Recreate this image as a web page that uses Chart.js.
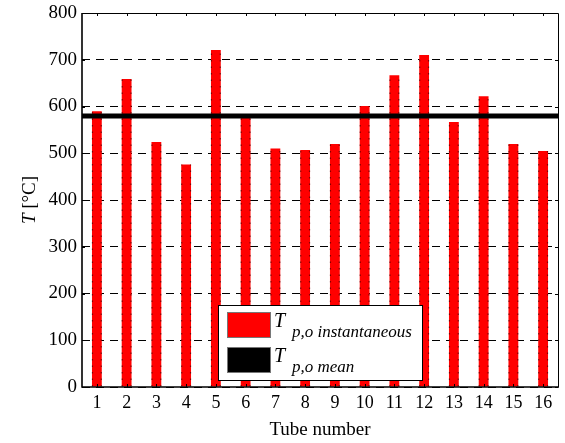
<!DOCTYPE html>
<html>
<head>
<meta charset="utf-8">
<script src="https://cdn.jsdelivr.net/npm/chart.js@4/dist/chart.umd.min.js"></script>
<style>
    html, body { margin: 0; padding: 0; background: #fff; }
    #wrap { width: 565px; height: 443px; position: relative; }
</style>
</head>
<body>
<div id="wrap"><canvas id="chart" width="565" height="443"></canvas></div>
<script>
const tubes = ["1", "2", "3", "4", "5", "6", "7", "8", "9", "10", "11", "12", "13", "14", "15", "16"];
const tempInstant = [590, 659, 524, 476, 721, 578, 510, 507, 520, 601, 667, 710, 567, 622, 520, 505];
const tempMean = tempInstant.reduce((a, b) => a + b, 0) / tempInstant.length;
const yMin = 0;
const yMax = 800;
const yStep = 100;

const serif = "'Liberation Serif', 'Times New Roman', serif";

// frame round the plot area with short inward ticks
const framePlugin = {
    id: "frame",
    afterDatasetsDraw(chart) {
        const { ctx, chartArea: a, scales } = chart;
        ctx.save();
        ctx.strokeStyle = "#000";
        ctx.lineWidth = 1;
        ctx.setLineDash([]);
        const tl = 3;
        ctx.beginPath();
        scales.x.ticks.forEach((t, i) => {
            const px = Math.round(scales.x.getPixelForTick(i)) + 0.5;
            ctx.moveTo(px, a.top); ctx.lineTo(px, a.top + tl);
            ctx.moveTo(px, a.bottom); ctx.lineTo(px, a.bottom - tl);
        });
        scales.y.ticks.forEach((t) => {
            const py = Math.round(scales.y.getPixelForValue(t.value)) + 0.5;
            ctx.moveTo(a.left, py); ctx.lineTo(a.left + tl, py);
            ctx.moveTo(a.right, py); ctx.lineTo(a.right - tl, py);
        });
        ctx.stroke();
        ctx.restore();
    },
    afterDraw(chart) {
        const { ctx, chartArea: a } = chart;
        ctx.save();
        ctx.strokeStyle = "#000";
        ctx.lineWidth = 1;
        ctx.beginPath();
        ctx.moveTo(a.left, Math.round(a.top) + 0.5);
        ctx.lineTo(a.right + 0.5, Math.round(a.top) + 0.5);
        ctx.lineTo(a.right + 0.5, a.bottom);
        ctx.stroke();
        ctx.lineWidth = 1.6;
        ctx.beginPath();
        ctx.moveTo(a.left, a.top);
        ctx.lineTo(a.left, a.bottom);
        ctx.lineTo(a.right + 1, a.bottom);
        ctx.stroke();
        ctx.restore();
    },
};

// dotted edges on the bars, then the mean line across the whole plot
const meanPlugin = {
    id: "meanLine",
    afterDatasetsDraw(chart) {
        const { ctx, chartArea: a } = chart;
        const meta = chart.getDatasetMeta(0);
        ctx.save();
        ctx.strokeStyle = "rgba(70,0,0,0.65)";
        ctx.lineWidth = 1.2;
        ctx.setLineDash([1.5, 5]);
        meta.data.forEach((bar) => {
            const { x, y, base, width } = bar.getProps(["x", "y", "base", "width"], true);
            ctx.beginPath();
            ctx.moveTo(x - width / 2 + 0.5, base);
            ctx.lineTo(x - width / 2 + 0.5, y);
            ctx.moveTo(x + width / 2 - 0.5, base);
            ctx.lineTo(x + width / 2 - 0.5, y);
            ctx.stroke();
        });
        ctx.setLineDash([]);

        const py = chart.scales.y.getPixelForValue(tempMean);
        ctx.strokeStyle = "#000";
        ctx.lineWidth = 5;
        ctx.beginPath();
        ctx.moveTo(a.left, py);
        ctx.lineTo(a.right, py);
        ctx.stroke();
        ctx.restore();
    },
};

// y title with italic T, and the boxed legend with subscripted labels
const textPlugin = {
    id: "texts",
    afterDraw(chart) {
        const { ctx, chartArea: a } = chart;
        ctx.save();

        ctx.translate(30, (a.top + a.bottom) / 2);
        ctx.rotate(-Math.PI / 2);
        ctx.fillStyle = "#000";
        ctx.textBaseline = "middle";
        ctx.font = "italic 19px " + serif;
        const t1 = "T";
        const t2 = " [°C]";
        const w1 = ctx.measureText(t1).width;
        ctx.font = "19px " + serif;
        const w2 = ctx.measureText(t2).width;
        const sx = -(w1 + w2) / 2;
        ctx.font = "italic 19px " + serif;
        ctx.textAlign = "left";
        ctx.fillText(t1, sx, 0);
        ctx.font = "19px " + serif;
        ctx.fillText(t2, sx + w1, 0);
        ctx.setTransform(1, 0, 0, 1, 0, 0);

        const bx = a.left + 136;
        const bw = 204;
        const bh = 75;
        const by = a.bottom - 7 - bh;
        ctx.fillStyle = "#fff";
        ctx.fillRect(bx, by, bw, bh);
        ctx.strokeStyle = "#000";
        ctx.lineWidth = 1;
        ctx.strokeRect(bx + 0.5, by + 0.5, bw, bh);

        const entries = [
            { color: "#ff0000", sub: "p,o instantaneous", top: by + 7 },
            { color: "#000000", sub: "p,o mean", top: by + 42 },
        ];
        entries.forEach((e) => {
            ctx.fillStyle = e.color;
            ctx.fillRect(bx + 9, e.top, 44, 26);
            ctx.strokeStyle = "#777";
            ctx.strokeRect(bx + 9.5, e.top + 0.5, 43, 25);
            ctx.fillStyle = "#000";
            ctx.textAlign = "left";
            ctx.textBaseline = "alphabetic";
            ctx.font = "italic 20px " + serif;
            ctx.fillText("T", bx + 56, e.top + 15);
            ctx.font = "italic 17px " + serif;
            ctx.fillText(e.sub, bx + 74, e.top + 25);
        });
        ctx.restore();
    },
};

const context = document.getElementById("chart").getContext("2d");

new Chart(context, {
    type: "bar",
    data: {
        labels: tubes,
        datasets: [
            {
                label: "T p,o instantaneous",
                data: tempInstant,
                backgroundColor: "#ff0000",
                borderWidth: 0,
                categoryPercentage: 1,
                barPercentage: 0.33,
            },
        ],
    },
    options: {
        responsive: false,
        animation: false,
        devicePixelRatio: 1,
        layout: { padding: { left: 0, right: 7, top: 13, bottom: 0 } },
        plugins: {
            legend: { display: false },
            tooltip: { enabled: false },
        },
        scales: {
            x: {
                grid: { display: false, drawTicks: false },
                border: { display: false },
                ticks: {
                    color: "#000",
                    font: { family: serif, size: 18 },
                    padding: 5,
                    maxRotation: 0,
                },
                title: {
                    display: true,
                    text: "Tube number",
                    color: "#000",
                    font: { family: serif, size: 19 },
                    padding: { top: 0, bottom: 2 },
                },
                afterFit: (s) => {
                    s.height = 56;
                    s.paddingLeft = 0;
                    s.paddingRight = 0;
                },
            },
            y: {
                min: yMin,
                max: yMax,
                grid: { color: "#000", lineWidth: 1, drawTicks: false },
                border: { display: false, dash: [8, 6] },
                ticks: {
                    stepSize: yStep,
                    color: "#000",
                    font: { family: serif, size: 19 },
                    padding: 5,
                },
                afterFit: (s) => {
                    s.width = 82;
                    s.paddingTop = 0;
                    s.paddingBottom = 0;
                },
            },
        },
    },
    plugins: [framePlugin, meanPlugin, textPlugin],
});
</script>
</body>
</html>
